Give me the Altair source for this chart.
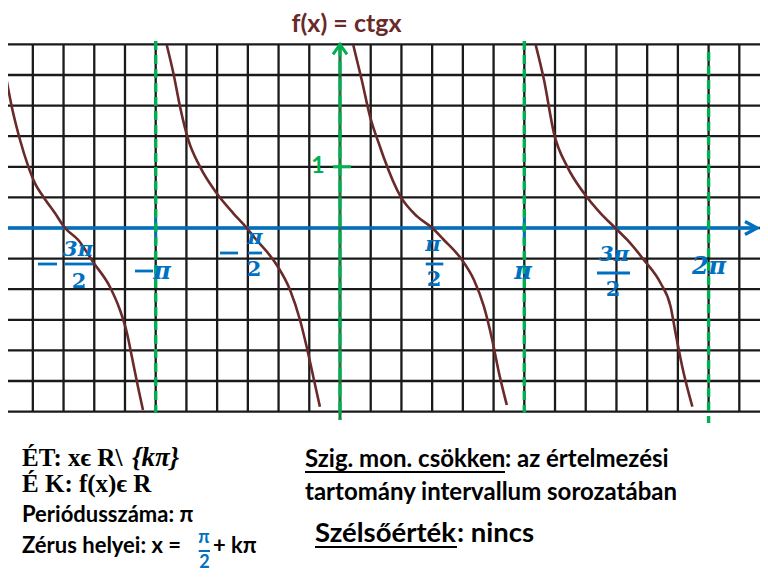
import altair as alt
import pandas as pd

# ---------------- data (x in units of pi, y = ctg x) ----------------
branch_a_x = [-1.827, -1.781, -1.736, -1.691, -1.655, -1.610, -1.546, -1.492, -1.420, -1.340, -1.248, -1.194, -1.156, -1.129, -1.096, -1.069]
branch_a_y = [2.717, 1.982, 1.438, 1.002, 0.730, 0.511, 0.240, 0.0, -0.196, -0.556, -0.964, -1.340, -1.716, -2.108, -2.598, -2.974]
branch_b_x = [-0.940, -0.904, -0.868, -0.823, -0.760, -0.669, -0.579, -0.506, -0.461, -0.343, -0.271, -0.217, -0.181, -0.145, -0.109]
branch_b_y = [2.990, 2.528, 1.982, 1.438, 1.002, 0.567, 0.240, 0.0, -0.168, -0.605, -1.013, -1.503, -1.940, -2.430, -2.920]
branch_c_x = [0.072, 0.118, 0.163, 0.217, 0.239, 0.329, 0.420, 0.501, 0.564, 0.655, 0.727, 0.781, 0.826, 0.863, 0.905]
branch_c_y = [2.990, 2.418, 1.819, 1.328, 1.139, 0.511, 0.185, 0.0, -0.196, -0.495, -0.850, -1.286, -1.830, -2.374, -2.892]
branch_d_x = [1.062, 1.107, 1.161, 1.233, 1.324, 1.414, 1.487, 1.559, 1.649, 1.740, 1.794, 1.821, 1.857, 1.912]
branch_d_y = [2.990, 2.418, 1.547, 1.002, 0.567, 0.240, 0.021, -0.196, -0.523, -0.903, -1.286, -1.721, -2.266, -2.920]

asymptotes = [-1, 1, 2]
asym_top = [3.056, 3.056, 2.876]
asym_bottom = [-3.02, -3.02, -3.186]

# tick labels on the x axis
num_text = ["3π", "π", "π", "3π"]
num_x = [-1.4216, -0.4612, 0.5046, 1.4867]
num_y = [-0.3595, -0.1634, -0.2778, -0.4412]
den_text = ["2", "2", "2", "2"]
den_x = [-1.4162, -0.4666, 0.5100, 1.4813]
den_y = [-0.8824, -0.6863, -0.8497, -1.0131]
bar_x = [-1.4921, -0.4992, 0.4650, 1.3945]
bar_x2 = [-1.3402, -0.4232, 0.5605, 1.5735]
bar_y = [-0.5882, -0.4085, -0.5882, -0.7353]
minus_x = [-1.6386, -1.1123, -0.6511]
minus_x2 = [-1.5355, -1.0147, -0.5535]
minus_y = [-0.5882, -0.7026, -0.4085]
single_text = ["π", "π", "2π"]
single_x = [-0.9658, 0.9930, 2.0022]
single_y = [-0.7190, -0.7271, -0.6454]

XMIN, XMAX = -1.80141, 2.27889
YMIN, YMAX = -5.63725, 3.59477

BLUE = "#0070c0"
GREEN = "#00b050"
CURVE = "#6b2a2a"

xs = alt.Scale(domain=[XMIN, XMAX], nice=False, zero=False)
ys = alt.Scale(domain=[YMIN, YMAX], nice=False, zero=False)


def X(f="x"):
    return alt.X(f"{f}:Q", scale=xs, axis=None)


def Y(f="y"):
    return alt.Y(f"{f}:Q", scale=ys, axis=None)


# grid
gv = pd.DataFrame({"x": [k / 6 for k in range(-11, 15)]})
gv["y"] = -3.0
gv["y2"] = 3.0
gh = pd.DataFrame({"y": [k / 2 for k in range(-6, 7)]})
gh["x"] = -11 / 6
gh["x2"] = 14 / 6

grid_v = alt.Chart(gv).mark_rule(color="#1a1a1a", strokeWidth=2.3, clip=True).encode(
    x=X(), y=Y(), y2="y2:Q")
grid_h = alt.Chart(gh).mark_rule(color="#1a1a1a", strokeWidth=2.3, clip=True).encode(
    x=X(), x2="x2:Q", y=Y())

# x axis
xa = pd.DataFrame({"x": [-1.85], "x2": [2.2626], "y": [0.0]})
x_axis = alt.Chart(xa).mark_rule(color=BLUE, strokeWidth=3.4, clip=True).encode(
    x=X(), x2="x2:Q", y=Y())

bt = pd.DataFrame({"x": [-1, 1], "y": [0.163, 0.163], "y2": [-0.245, -0.245]})
blue_ticks = alt.Chart(bt).mark_rule(color=BLUE, strokeWidth=3).encode(x=X(), y=Y(), y2="y2:Q")

# y axis
ya = pd.DataFrame({"x": [0.0], "y": [3.0], "y2": [-3.137]})
y_axis_base = alt.Chart(ya).mark_rule(color="#1d7a3d", strokeWidth=3).encode(x=X(), y=Y(), y2="y2:Q")
y_axis_dash = alt.Chart(ya).mark_rule(color=GREEN, strokeWidth=3, strokeDash=[12, 5]).encode(
    x=X(), y=Y(), y2="y2:Q")

asy = pd.DataFrame({"x": asymptotes, "y": asym_top, "y2": asym_bottom})
asym = alt.Chart(asy).mark_rule(color=GREEN, strokeWidth=3.4, strokeDash=[9, 5]).encode(
    x=X(), y=Y(), y2="y2:Q")

# curves
rows = []
for name, bx, by in [("a", branch_a_x, branch_a_y), ("b", branch_b_x, branch_b_y),
                     ("c", branch_c_x, branch_c_y), ("d", branch_d_x, branch_d_y)]:
    for i, (u, v) in enumerate(zip(bx, by)):
        rows.append({"branch": name, "i": i, "x": u, "y": v})
curves = alt.Chart(pd.DataFrame(rows)).mark_line(
    color=CURVE, strokeWidth=2.6, interpolate="monotone", clip=True).encode(
    x=X(), y=Y(), detail="branch:N", order="i:Q")

# arrow heads
arr_y = alt.Chart(pd.DataFrame({"x": [0.0], "y": [3.0]})).mark_point(
    shape="M-0.7,1L0,0L0.7,1", size=400, filled=False, color=GREEN, strokeWidth=3, opacity=1
).encode(x=X(), y=Y())
arr_x = alt.Chart(pd.DataFrame({"x": [2.2626], "y": [0.0]})).mark_point(
    shape="M-1,-0.55L0,0L-1,0.55", size=576, filled=False, color=BLUE, strokeWidth=3.4, opacity=1
).encode(x=X(), y=Y())

# unit tick on y axis
gt = pd.DataFrame({"x": [-0.038], "x2": [0.0597], "y": [1.0]})
green_tick = alt.Chart(gt).mark_rule(color=GREEN, strokeWidth=3).encode(x=X(), x2="x2:Q", y=Y())
one_lbl = alt.Chart(pd.DataFrame({"x": [-0.1194], "y": [1.0131], "t": ["1"]})).mark_text(
    font="Lato", fontWeight="bold", fontSize=23, color=GREEN, baseline="middle", align="center"
).encode(x=X(), y=Y(), text="t:N")

# x tick labels
lab_font = "DejaVu Serif"
nums = alt.Chart(pd.DataFrame({"x": num_x, "y": num_y, "t": num_text})).mark_text(
    font=lab_font, fontWeight="bold", fontStyle="italic", fontSize=21, color=BLUE,
    baseline="middle", align="center").encode(x=X(), y=Y(), text="t:N")
dens = alt.Chart(pd.DataFrame({"x": den_x, "y": den_y, "t": den_text})).mark_text(
    font=lab_font, fontWeight="bold", fontSize=21, color=BLUE,
    baseline="middle", align="center").encode(x=X(), y=Y(), text="t:N")
singles = alt.Chart(pd.DataFrame({"x": single_x, "y": single_y, "t": single_text})).mark_text(
    font=lab_font, fontWeight="bold", fontStyle="italic", fontSize=24, color=BLUE,
    baseline="middle", align="center").encode(x=X(), y=Y(), text="t:N")
bars = alt.Chart(pd.DataFrame({"x": bar_x + minus_x, "x2": bar_x2 + minus_x2, "y": bar_y + minus_y})).mark_rule(
    color=BLUE, strokeWidth=2.8).encode(x=X(), x2="x2:Q", y=Y())

# title
title = alt.Chart(pd.DataFrame({"x": [0.0353], "y": [3.2026], "t": ["f(x) = ctgx"]})).mark_text(
    font="Lato", fontWeight="bold", fontSize=25, color=CURVE, baseline="alphabetic", align="center"
).encode(x=X(), y=Y(), text="t:N")

# bottom texts
serif_df = pd.DataFrame({"x": [-1.7254, -1.7254], "y": [-3.8889, -4.3137],
                         "t": ["ÉT: xϵ R\\", "É K: f(x)ϵ R"]})
serif_txt = alt.Chart(serif_df).mark_text(
    font="Liberation Serif", fontWeight="bold", fontSize=25, color="black", align="left", baseline="alphabetic"
).encode(x=X(), y=Y(), text="t:N")
serif_it = alt.Chart(pd.DataFrame({"x": [-1.1286], "y": [-3.8889], "t": ["{kπ}"]})).mark_text(
    font="Liberation Serif", fontWeight="bold", fontStyle="italic", fontSize=27, color="black",
    align="left", baseline="alphabetic").encode(x=X(), y=Y(), text="t:N")

sans_l = pd.DataFrame({
    "x": [-1.7254, -1.7254, -0.6891],
    "y": [-4.8039, -5.3105, -5.3105],
    "t": ["Periódusszáma: π", "Zérus helyei: x =", "+ kπ"]})
sans_left = alt.Chart(sans_l).mark_text(
    font="Lato", fontWeight="bold", fontSize=22, color="black", align="left", baseline="alphabetic"
).encode(x=X(), y=Y(), text="t:N")

sans_r = pd.DataFrame({
    "x": [-0.1899, 0.8953, -0.1899],
    "y": [-3.9052, -3.9052, -4.4444],
    "t": ["Szig. mon. csökken", ": az értelmezési", "tartomány intervallum sorozatában"]})
sans_right = alt.Chart(sans_r).mark_text(
    font="Lato", fontWeight="bold", fontSize=24, color="black", align="left", baseline="alphabetic"
).encode(x=X(), y=Y(), text="t:N")

big_df = pd.DataFrame({"x": [-0.1356, 0.6348], "y": [-5.1307, -5.1307], "t": ["Szélsőérték", ": nincs"]})
big_txt = alt.Chart(big_df).mark_text(
    font="Lato", fontWeight="bold", fontSize=27.5, color="black", align="left", baseline="alphabetic"
).encode(x=X(), y=Y(), text="t:N")

ul = pd.DataFrame({"x": [-0.1899, -0.1356], "x2": [0.8953, 0.6348], "y": [-3.9869, -5.2124]})
underlines = alt.Chart(ul).mark_rule(color="black", strokeWidth=2).encode(x=X(), x2="x2:Q", y=Y())

zf = pd.DataFrame({"x": [-0.7379, -0.7352], "y": [-5.0735, -5.4739], "t": ["π", "2"]})
zfrac = alt.Chart(zf).mark_text(
    font="Lato", fontWeight="bold", fontSize=18, color=BLUE, align="center", baseline="middle"
).encode(x=X(), y=Y(), text="t:N")
zbar = alt.Chart(pd.DataFrame({"x": [-0.7667], "x2": [-0.7054], "y": [-5.2778]})).mark_rule(
    color=BLUE, strokeWidth=2).encode(x=X(), x2="x2:Q", y=Y())

chart = alt.layer(
    grid_v, grid_h, x_axis, blue_ticks, y_axis_base, y_axis_dash, asym, curves,
    arr_y, arr_x, green_tick, one_lbl, nums, dens, singles, bars, title,
    serif_txt, serif_it, sans_left, sans_right, big_txt, underlines, zfrac, zbar
).properties(
    width=752, height=565, padding=0, autosize="none", background="white"
).configure_view(stroke=None)

chart.save("out.html", embed_options={"renderer": "svg", "actions": False})
